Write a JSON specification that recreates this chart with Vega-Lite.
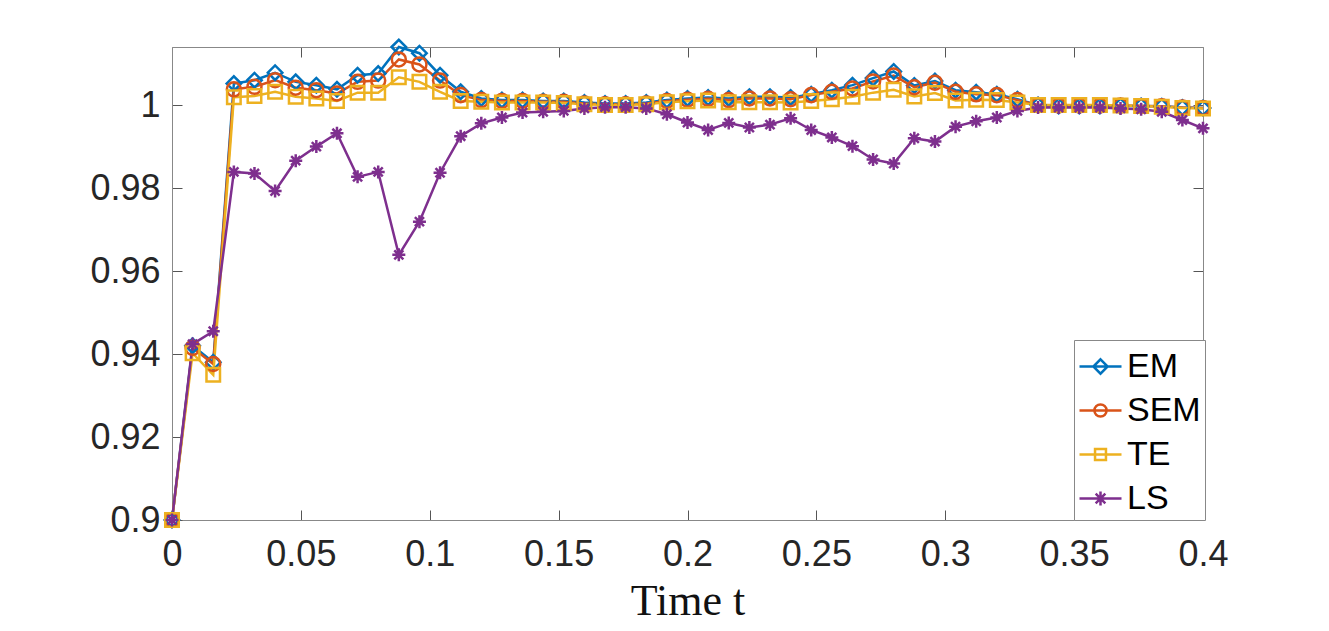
{
  "$schema": "https://vega.github.io/schema/vega-lite/v6.json",
  "width": 1031,
  "height": 473,
  "autosize": {"type": "none"},
  "padding": {"left": 172, "top": 47, "right": 126, "bottom": 111},
  "background": "white",
  "config": {"view": {"stroke": null}, "font": "Liberation Sans"},
  "data": {"values": [
    {"t": 0.000, "EM": 0.9000, "SEM": 0.9000, "TE": 0.9000, "LS": 0.9000},
    {"t": 0.008, "EM": 0.9420, "SEM": 0.9415, "TE": 0.9402, "LS": 0.9424},
    {"t": 0.016, "EM": 0.9380, "SEM": 0.9376, "TE": 0.9350, "LS": 0.9455},
    {"t": 0.024, "EM": 1.0052, "SEM": 1.0038, "TE": 1.0019, "LS": 0.9839},
    {"t": 0.032, "EM": 1.0060, "SEM": 1.0044, "TE": 1.0022, "LS": 0.9835},
    {"t": 0.040, "EM": 1.0078, "SEM": 1.0060, "TE": 1.0032, "LS": 0.9793},
    {"t": 0.048, "EM": 1.0056, "SEM": 1.0042, "TE": 1.0020, "LS": 0.9866},
    {"t": 0.056, "EM": 1.0048, "SEM": 1.0036, "TE": 1.0016, "LS": 0.9900},
    {"t": 0.064, "EM": 1.0038, "SEM": 1.0028, "TE": 1.0010, "LS": 0.9932},
    {"t": 0.072, "EM": 1.0072, "SEM": 1.0056, "TE": 1.0030, "LS": 0.9827},
    {"t": 0.080, "EM": 1.0076, "SEM": 1.0059, "TE": 1.0030, "LS": 0.9839},
    {"t": 0.088, "EM": 1.0140, "SEM": 1.0110, "TE": 1.0067, "LS": 0.9639},
    {"t": 0.096, "EM": 1.0125, "SEM": 1.0098, "TE": 1.0056, "LS": 0.9719},
    {"t": 0.104, "EM": 1.0072, "SEM": 1.0059, "TE": 1.0032, "LS": 0.9837},
    {"t": 0.112, "EM": 1.0032, "SEM": 1.0024, "TE": 1.0010, "LS": 0.9925},
    {"t": 0.120, "EM": 1.0016, "SEM": 1.0012, "TE": 1.0008, "LS": 0.9956},
    {"t": 0.128, "EM": 1.0012, "SEM": 1.0010, "TE": 1.0006, "LS": 0.9970},
    {"t": 0.136, "EM": 1.0012, "SEM": 1.0010, "TE": 1.0006, "LS": 0.9982},
    {"t": 0.144, "EM": 1.0010, "SEM": 1.0008, "TE": 1.0006, "LS": 0.9984},
    {"t": 0.152, "EM": 1.0010, "SEM": 1.0008, "TE": 1.0005, "LS": 0.9986},
    {"t": 0.160, "EM": 1.0006, "SEM": 1.0004, "TE": 1.0002, "LS": 0.9992},
    {"t": 0.168, "EM": 1.0004, "SEM": 1.0002, "TE": 1.0000, "LS": 0.9995},
    {"t": 0.176, "EM": 1.0004, "SEM": 1.0002, "TE": 1.0000, "LS": 0.9995},
    {"t": 0.184, "EM": 1.0006, "SEM": 1.0004, "TE": 1.0002, "LS": 0.9992},
    {"t": 0.192, "EM": 1.0012, "SEM": 1.0010, "TE": 1.0007, "LS": 0.9978},
    {"t": 0.200, "EM": 1.0016, "SEM": 1.0013, "TE": 1.0009, "LS": 0.9958},
    {"t": 0.208, "EM": 1.0018, "SEM": 1.0015, "TE": 1.0011, "LS": 0.9940},
    {"t": 0.216, "EM": 1.0016, "SEM": 1.0012, "TE": 1.0007, "LS": 0.9957},
    {"t": 0.224, "EM": 1.0020, "SEM": 1.0016, "TE": 1.0007, "LS": 0.9946},
    {"t": 0.232, "EM": 1.0020, "SEM": 1.0016, "TE": 1.0007, "LS": 0.9953},
    {"t": 0.240, "EM": 1.0018, "SEM": 1.0014, "TE": 1.0006, "LS": 0.9968},
    {"t": 0.248, "EM": 1.0026, "SEM": 1.0024, "TE": 1.0010, "LS": 0.9940},
    {"t": 0.256, "EM": 1.0036, "SEM": 1.0032, "TE": 1.0014, "LS": 0.9922},
    {"t": 0.264, "EM": 1.0048, "SEM": 1.0040, "TE": 1.0020, "LS": 0.9901},
    {"t": 0.272, "EM": 1.0065, "SEM": 1.0057, "TE": 1.0030, "LS": 0.9869},
    {"t": 0.280, "EM": 1.0081, "SEM": 1.0071, "TE": 1.0037, "LS": 0.9859},
    {"t": 0.288, "EM": 1.0047, "SEM": 1.0043, "TE": 1.0021, "LS": 0.9920},
    {"t": 0.296, "EM": 1.0058, "SEM": 1.0054, "TE": 1.0029, "LS": 0.9912},
    {"t": 0.304, "EM": 1.0036, "SEM": 1.0032, "TE": 1.0011, "LS": 0.9948},
    {"t": 0.312, "EM": 1.0031, "SEM": 1.0026, "TE": 1.0013, "LS": 0.9961},
    {"t": 0.320, "EM": 1.0026, "SEM": 1.0024, "TE": 1.0012, "LS": 0.9970},
    {"t": 0.328, "EM": 1.0014, "SEM": 1.0012, "TE": 1.0006, "LS": 0.9986},
    {"t": 0.336, "EM": 1.0000, "SEM": 1.0000, "TE": 1.0000, "LS": 0.9994},
    {"t": 0.344, "EM": 0.9998, "SEM": 0.9999, "TE": 1.0000, "LS": 0.9994},
    {"t": 0.352, "EM": 0.9998, "SEM": 0.9999, "TE": 1.0000, "LS": 0.9994},
    {"t": 0.360, "EM": 0.9998, "SEM": 0.9999, "TE": 1.0000, "LS": 0.9994},
    {"t": 0.368, "EM": 0.9998, "SEM": 0.9999, "TE": 0.9999, "LS": 0.9992},
    {"t": 0.376, "EM": 0.9998, "SEM": 0.9998, "TE": 0.9998, "LS": 0.9990},
    {"t": 0.384, "EM": 0.9997, "SEM": 0.9997, "TE": 0.9996, "LS": 0.9984},
    {"t": 0.392, "EM": 0.9994, "SEM": 0.9994, "TE": 0.9993, "LS": 0.9964},
    {"t": 0.400, "EM": 0.9993, "SEM": 0.9993, "TE": 0.9992, "LS": 0.9944}
  ]},
  "transform": [{"fold": ["EM", "SEM", "TE", "LS"], "as": ["method", "v"]}],
  "layer": [
    {
      "mark": {"type": "line", "strokeWidth": 2.5},
      "encoding": {
        "x": {"field": "t", "type": "quantitative",
          "scale": {"domain": [0, 0.4], "nice": false, "zero": false},
          "axis": {"orient": "bottom", "values": [0, 0.05, 0.1, 0.15, 0.2, 0.25, 0.3, 0.35, 0.4], "format": ".2~f",
            "grid": false, "domainColor": "#888888", "domainWidth": 1, "tickColor": "#555555", "tickSize": -10, "tickWidth": 1,
            "labelFont": "Liberation Sans", "labelFontSize": 36, "labelColor": "#262626", "labelPadding": 27, "labelFlush": false, "labelOverlap": false,
            "title": "Time t", "titleFont": "Liberation Serif", "titleFontSize": 44, "titleFontWeight": "normal", "titleColor": "#111111", "titlePadding": 7}},
        "y": {"field": "v", "type": "quantitative",
          "scale": {"domain": [0.9, 1.014], "nice": false, "zero": false},
          "axis": {"orient": "left", "values": [0.9, 0.92, 0.94, 0.96, 0.98, 1], "format": ".2~f",
            "grid": false, "domainColor": "#888888", "domainWidth": 1, "tickColor": "#555555", "tickSize": -10, "tickWidth": 1,
            "labelFont": "Liberation Sans", "labelFontSize": 36, "labelColor": "#262626", "labelPadding": 22, "labelFlush": false, "labelOverlap": false,
            "title": null}},
        "color": {"field": "method", "type": "nominal",
          "scale": {"domain": ["EM", "SEM", "TE", "LS"], "range": ["#0072BD", "#D95319", "#EDB120", "#7E2F8E"]},
          "legend": null}
      }
    },
    {
      "mark": {"type": "point", "filled": false, "strokeWidth": 2.5, "opacity": 1},
      "encoding": {
        "x": {"field": "t", "type": "quantitative",
          "axis": {"orient": "top", "values": [0, 0.05, 0.1, 0.15, 0.2, 0.25, 0.3, 0.35, 0.4], "labels": false, "grid": false,
            "domainColor": "#888888", "tickColor": "#555555", "tickSize": -10, "title": null}},
        "y": {"field": "v", "type": "quantitative",
          "axis": {"orient": "right", "values": [0.9, 0.92, 0.94, 0.96, 0.98, 1], "labels": false, "grid": false,
            "domainColor": "#888888", "tickColor": "#555555", "tickSize": -10, "title": null}},
        "color": {"field": "method", "type": "nominal", "legend": null},
        "shape": {"field": "method", "type": "nominal",
          "scale": {"domain": ["EM", "SEM", "TE", "LS"], "range": ["diamond", "circle", "square", "M-1,0H1M0,-1V1M-0.7,-0.7L0.7,0.7M-0.7,0.7L0.7,-0.7"]},
          "legend": null},
        "size": {"field": "method", "type": "nominal",
          "scale": {"domain": ["EM", "SEM", "TE", "LS"], "range": [210, 169, 135, 160]},
          "legend": null}
      }
    },
    {
      "mark": {"type": "point", "filled": false, "strokeWidth": 2.5, "opacity": 0},
      "encoding": {
        "x": {"field": "t", "type": "quantitative", "axis": null},
        "y": {"field": "v", "type": "quantitative", "axis": null},
        "color": {"field": "method", "type": "nominal",
          "legend": {"orient": "none", "legendX": 902, "legendY": 293, "padding": 4, "strokeColor": "#888888", "fillColor": "white",
            "symbolSize": 1764, "symbolStrokeWidth": 2.5, "symbolOpacity": 1, "symbolFillColor": "transparent",
            "labelFont": "Liberation Sans", "labelFontSize": 34, "labelColor": "#000000", "labelOffset": 4, "rowPadding": 4, "title": null}},
        "shape": {"field": "method", "type": "nominal",
          "scale": {"domain": ["EM", "SEM", "TE", "LS"], "range": [
            "M-1,0H1M0,-0.34L0.34,0L0,0.34L-0.34,0Z",
            "M-1,0H1M0.29,0A0.29,0.29,0,1,1,-0.29,0A0.29,0.29,0,1,1,0.29,0",
            "M-1,0H1M-0.26,-0.26H0.26V0.26H-0.26Z",
            "M-1,0H1M0,-0.33V0.33M-0.23,-0.23L0.23,0.23M-0.23,0.23L0.23,-0.23"]},
          "legend": {"orient": "none", "legendX": 902, "legendY": 293, "padding": 4, "strokeColor": "#888888", "fillColor": "white",
            "symbolSize": 1764, "symbolStrokeWidth": 2.5, "symbolOpacity": 1, "symbolFillColor": "transparent",
            "labelFont": "Liberation Sans", "labelFontSize": 34, "labelColor": "#000000", "labelOffset": 4, "rowPadding": 4, "title": null}}
      }
    }
  ],
  "resolve": {
    "scale": {"shape": "independent", "size": "independent"},
    "axis": {"x": "independent", "y": "independent"},
    "legend": {"color": "independent", "shape": "independent"}
  }
}
